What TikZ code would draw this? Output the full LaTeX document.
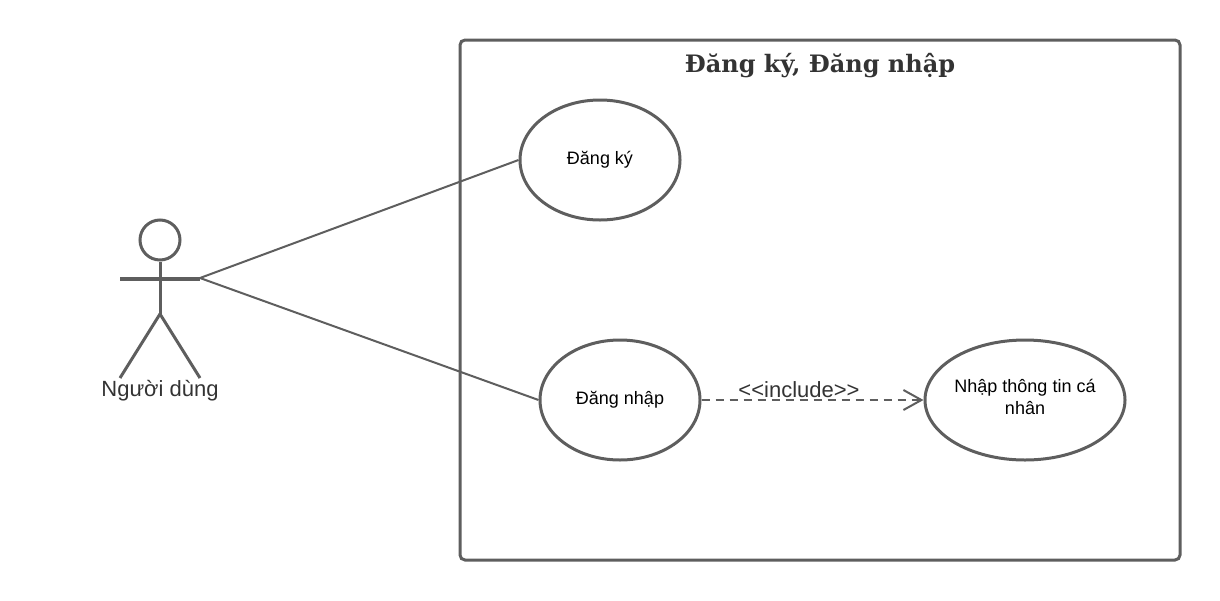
\documentclass[tikz,border=0pt]{standalone}
\usepackage{fontspec}
\setmainfont{Liberation Sans}
\newfontfamily\titlefont{DejaVu Serif}
\usetikzlibrary{positioning, shapes, arrows.meta}
\definecolor{linegray}{HTML}{5E5E5E}
\definecolor{textgray}{HTML}{333333}
\tikzset{
  usecase/.style={ellipse,draw=linegray,line width=3pt,minimum height=120pt,
    inner sep=0pt,align=center,font=\fontsize{18}{22}\selectfont},
  link/.style={draw=linegray,line width=2pt},
  limb/.style={draw=linegray,line width=3pt},
}
\begin{document}
\begin{tikzpicture}[x=1pt,y=-1pt,line cap=butt]
\useasboundingbox (0,0) rectangle (1220,600);
\node[draw=linegray,line width=3pt,rounded corners=5pt,minimum width=720pt,minimum height=520pt,inner sep=0pt] (system) at (820,300) {};
\node[text=textgray,font=\titlefont\bfseries\fontsize{24}{29}\selectfont] (title) at (820,66) {Đăng ký, Đăng nhập};
\node[usecase,minimum width=160pt] (dangky) at (600,160) {Đăng ký};
\node[usecase,minimum width=160pt] (dangnhap) at (620,400) {Đăng nhập};
\node[usecase,minimum width=200pt,inner xsep=-8pt,inner ysep=-8pt] (nhap) at (1025,400) {Nhập thông tin cá\\nhân\rule[-6pt]{0pt}{6pt}};
% actor
\node[draw=linegray,line width=3pt,circle,minimum size=40pt,inner sep=0pt] (head) at (160,240) {};
\coordinate (neck) at (160,278);
\coordinate (hip) at (160,314);
\coordinate (lefthand) at (120,279);
\coordinate (righthand) at (200,279);
\coordinate (leftfoot) at (120,378);
\coordinate (rightfoot) at (200,378);
\draw[limb] (head) -- (hip);
\draw[limb,line width=3.5pt] (lefthand) -- (righthand);
\foreach \foot in {leftfoot,rightfoot}
\draw[limb] (\foot) -- (hip);
\node[text=textgray,font=\fontsize{22}{26}\selectfont] (actor) at (160,391) {Người dùng};
% connectors
\coordinate (shoulder) at (200,278);
\draw[link] (shoulder) -- (dangky.west);
\draw[link] (shoulder) -- (dangnhap.west);
\draw[link,dash pattern=on 8pt off 6pt,-{Straight Barb[length=18pt,width=20pt,line width=2pt]}] (dangnhap.east) -- (nhap.west);
\node[text=textgray,font=\fontsize{22}{26}\selectfont] (include) at (799,390) {<{}<include>{}>};
\end{tikzpicture}
\end{document}
